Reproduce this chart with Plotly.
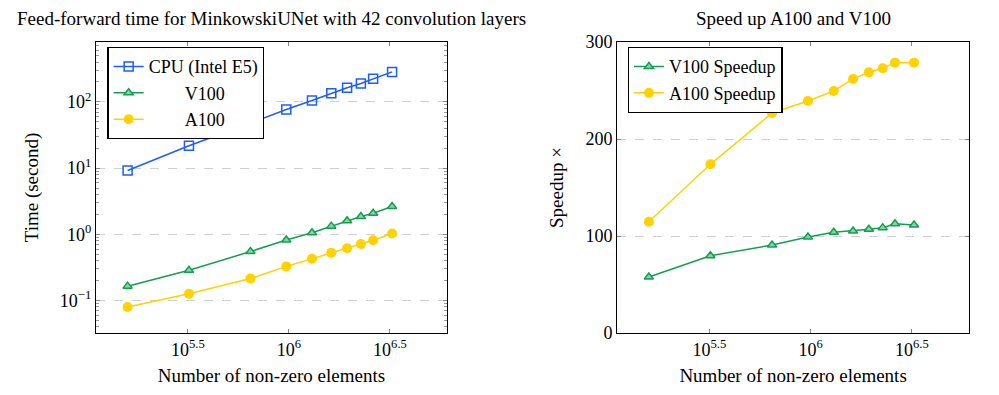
import plotly.graph_objects as go
from plotly.subplots import make_subplots

# Data
nnz = [159000, 320000, 645000, 970000, 1300000, 1620000, 1940000, 2270000, 2610000, 3240000]
cpu_time = [9.2, 21.8, 48, 77, 105, 135, 164, 190, 223, 284]
v100_time = [0.165, 0.286, 0.55, 0.82, 1.06, 1.33, 1.60, 1.86, 2.08, 2.64]
a100_time = [0.080, 0.127, 0.215, 0.328, 0.428, 0.526, 0.618, 0.716, 0.813, 1.03]
v100_speedup = [57.7, 79.7, 90.7, 99, 103.8, 105.2, 106.9, 108.6, 112.7, 111.3]
a100_speedup = [114.7, 173.9, 226.8, 239.2, 249.5, 261.9, 268.8, 272.9, 278.7, 278.7]

x_tickvals = [10**5.5, 10**6, 10**6.5]
x_ticktext = ["10<sup>5.5</sup>", "10<sup>6</sup>", "10<sup>6.5</sup>"]
y_tickvals = [0.1, 1, 10, 100]
y_ticktext = ["10<sup>−1</sup>", "10<sup>0</sup>", "10<sup>1</sup>", "10<sup>2</sup>"]
y_minor = [m * 10**e for e in range(-2, 3) for m in range(2, 10)]

BLUE = "#1f5cff"
GREEN = "#12a050"
GOLD = "#ffd200"
FONT = "'Liberation Serif', 'DejaVu Serif', serif"

fig = make_subplots(rows=1, cols=2)

pad = "&nbsp;" * 8
fig.add_trace(go.Scatter(x=nnz, y=cpu_time, name="CPU (Intel E5)", mode="lines+markers",
                         line=dict(color=BLUE, width=1.5),
                         marker=dict(symbol="square-open", size=9, color=BLUE, line=dict(width=1.5, color=BLUE)),
                         legend="legend"), row=1, col=1)
fig.add_trace(go.Scatter(x=nnz, y=v100_time, name=pad + "V100",
                         mode="lines+markers",
                         line=dict(color=GREEN, width=1.5),
                         marker=dict(symbol="triangle-up", size=8, color="#8fd0a8", line=dict(width=1.5, color=GREEN)),
                         legend="legend"), row=1, col=1)
fig.add_trace(go.Scatter(x=nnz, y=a100_time, name=pad + "A100",
                         mode="lines+markers",
                         line=dict(color=GOLD, width=1.5),
                         marker=dict(symbol="circle", size=10, color=GOLD),
                         legend="legend"), row=1, col=1)

fig.add_trace(go.Scatter(x=nnz, y=v100_speedup, name="V100 Speedup", mode="lines+markers",
                         line=dict(color=GREEN, width=1.5),
                         marker=dict(symbol="triangle-up", size=8, color="#8fd0a8", line=dict(width=1.5, color=GREEN)),
                         legend="legend2"), row=1, col=2)
fig.add_trace(go.Scatter(x=nnz, y=a100_speedup, name="A100 Speedup", mode="lines+markers",
                         line=dict(color=GOLD, width=1.5),
                         marker=dict(symbol="circle", size=10, color=GOLD),
                         legend="legend2"), row=1, col=2)

axis_common = dict(showline=True, linecolor="black", linewidth=1.3, mirror="allticks",
                   ticks="inside", ticklen=4, tickcolor="#888", tickfont=dict(family=FONT, size=18, color="black"),
                   zeroline=False)

fig.update_xaxes(type="log", range=[5.045, 6.782], tickvals=x_tickvals, ticktext=x_ticktext,
                 showgrid=False,
                 title=dict(text="Number of non-zero elements", font=dict(family=FONT, size=19, color="black"), standoff=9),
                 **axis_common)
fig.update_xaxes(domain=[0, 0.402], row=1, col=1)
fig.update_xaxes(domain=[0.597, 1.0], row=1, col=2)

fig.update_yaxes(type="log", range=[-1.49, 2.905], tickvals=y_tickvals, ticktext=y_ticktext,
                 showgrid=True, gridcolor="#d0d0d0", griddash="dash", gridwidth=1,
                 minor=dict(tickvals=y_minor, ticks="inside", ticklen=2.5, tickcolor="#999", showgrid=False),
                 title=dict(text="Time (second)", font=dict(family=FONT, size=19, color="black"), standoff=16),
                 row=1, col=1, **axis_common)
fig.update_yaxes(range=[0, 300], tickvals=[0, 100, 200, 300],
                 showgrid=True, gridcolor="#d0d0d0", griddash="dash", gridwidth=1,
                 title=dict(text="Speedup ×", font=dict(family=FONT, size=19, color="black"), standoff=16),
                 row=1, col=2, **axis_common)

legend_common = dict(bgcolor="white", bordercolor="black", borderwidth=1.3,
                     font=dict(family=FONT, size=18, color="black"),
                     xanchor="left", yanchor="top", tracegroupgap=0, itemwidth=30)
fig.update_layout(
    legend=dict(x=0.013, y=0.983, **legend_common),
    legend2=dict(x=0.609, y=0.983, **legend_common),
    showlegend=True,
    width=991, height=387,
    margin=dict(l=88, r=30, t=34, b=62),
    plot_bgcolor="white", paper_bgcolor="white",
    font=dict(family=FONT, color="black"),
    annotations=[
        dict(text="Feed-forward time for MinkowskiUNet with 42 convolution layers", x=0.201, y=1.0,
             xref="paper", yref="paper", xanchor="center", yanchor="bottom", yshift=11, showarrow=False,
             font=dict(family=FONT, size=19, color="black")),
        dict(text="Speed up A100 and V100", x=0.7985, y=1.0,
             xref="paper", yref="paper", xanchor="center", yanchor="bottom", yshift=11, showarrow=False,
             font=dict(family=FONT, size=19, color="black")),
    ],
)

fig.write_html("out.html")
